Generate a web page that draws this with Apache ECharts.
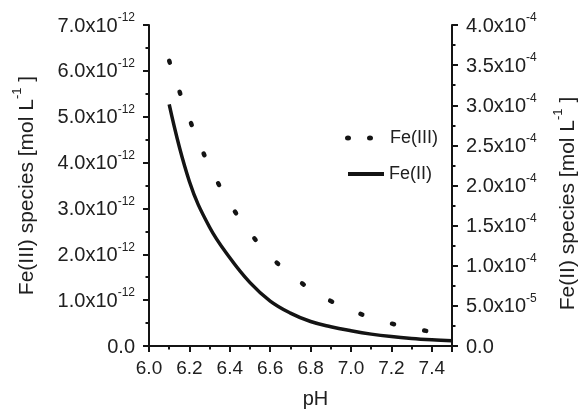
<!DOCTYPE html>
<html>
<head>
<meta charset="utf-8">
<script src="https://cdn.jsdelivr.net/npm/echarts@6/dist/echarts.min.js"></script>
<style>
  html, body { margin: 0; padding: 0; background: #fff; }
  #chart { width: 579px; height: 414px; }
</style>
</head>
<body>
<div id="chart"></div>
<script>
// pH sampling points
const pH = [6.1, 6.2, 6.3, 6.4, 6.5, 6.6, 6.7, 6.8, 6.9, 7.0, 7.1, 7.2, 7.3, 7.4, 7.5];
// Fe(III) species concentration, mol/L (left axis)
const fe3 = [6.22e-12, 4.95e-12, 3.92e-12, 3.11e-12, 2.47e-12, 1.96e-12, 1.56e-12, 1.24e-12,
             0.98e-12, 0.78e-12, 0.62e-12, 0.49e-12, 0.39e-12, 0.31e-12, 0.25e-12];
// Fe(II) species concentration, mol/L (right axis)
const fe2 = [3.01e-4, 2.05e-4, 1.48e-4, 1.10e-4, 0.79e-4, 0.56e-4, 0.41e-4, 0.305e-4,
             0.24e-4, 0.19e-4, 0.148e-4, 0.117e-4, 0.094e-4, 0.077e-4, 0.064e-4];

const INK = '#141414';
const TXT = '#202020';
const FONT = '"Liberation Sans", Arial, sans-serif';

// "m.m x10^e" tick labels with a raised exponent
function sciLabel(v) {
  if (Math.abs(v) < 1e-20) return '{b|0.0}';
  const e = Math.floor(Math.log10(v) + 1e-9);
  const m = v / Math.pow(10, e);
  return '{b|' + m.toFixed(1) + 'x10}{s|' + e + '}';
}
const richSci = {
  b: { fontSize: 20, lineHeight: 22, fontFamily: FONT, color: TXT, verticalAlign: 'bottom' },
  s: { fontSize: 12, lineHeight: 12, fontFamily: FONT, color: TXT, verticalAlign: 'bottom', padding: [14, 0, 12, 0] }
};
const richTitle = {
  b: { fontSize: 21, lineHeight: 24, fontFamily: FONT, color: TXT, verticalAlign: 'bottom' },
  s: { fontSize: 13, lineHeight: 13, fontFamily: FONT, color: TXT, verticalAlign: 'bottom', padding: [0, 0, 14, 0] }
};

const axisLine = { show: true, lineStyle: { color: INK, width: 2 } };
const tick = { show: true, inside: false, length: 6, lineStyle: { color: INK, width: 2 } };
const minor = { show: true, splitNumber: 2, length: 3.5, lineStyle: { color: INK, width: 2 } };

const chart = echarts.init(document.getElementById('chart'), null, { renderer: 'canvas' });
chart.setOption({
  animation: false,
  backgroundColor: '#fff',
  grid: { left: 149, right: 127, top: 25, bottom: 68, containLabel: false, outerBoundsMode: 'none' },
  legend: [
    {
      data: [{ name: 'Fe(III)', icon: 'path://M0,2.5a3,2.5 0 1,0 6,0a3,2.5 0 1,0 -6,0z M22,2.5a3,2.5 0 1,0 6,0a3,2.5 0 1,0 -6,0z' }],
      left: 340, top: 124, itemWidth: 28, itemHeight: 5, itemGap: 17,
      textStyle: { fontSize: 18, fontFamily: FONT, color: TXT, padding: [0, 0, 0, 12] },
      itemStyle: { color: INK, borderWidth: 0 }, lineStyle: { width: 0 }
    },
    {
      data: [{ name: 'Fe(II)', icon: 'path://M0,0h36v4h-36z' }],
      left: 343, top: 160, itemWidth: 36, itemHeight: 4.5, itemGap: 4,
      textStyle: { fontSize: 18, fontFamily: FONT, color: TXT },
      itemStyle: { color: INK, borderWidth: 0 }, lineStyle: { width: 0 }
    }
  ],
  xAxis: {
    type: 'value', min: 6.0, max: 7.5, interval: 0.2,
    axisLine: axisLine, axisTick: tick, minorTick: minor,
    splitLine: { show: false },
    axisLabel: {
      margin: 13, fontSize: 19, fontFamily: FONT, color: TXT,
      formatter: v => (v > 7.45 ? '' : v.toFixed(1))
    },
    name: 'pH', nameLocation: 'middle', nameGap: 43, nameMoveOverlap: false,
    nameTextStyle: { fontSize: 20, fontFamily: FONT, color: TXT, padding: [0, 0, 0, 30] }
  },
  yAxis: [
    {
      type: 'value', min: 0, max: 7e-12, interval: 1e-12, position: 'left',
      axisLine: axisLine, axisTick: tick, minorTick: minor,
      splitLine: { show: false },
      axisLabel: { margin: 14, formatter: sciLabel, rich: richSci },
      name: '{b|Fe(III) species [mol L}{s|-1}{b| ]}', nameLocation: 'middle', nameGap: 111,
      nameMoveOverlap: false,
      nameTextStyle: { rich: richTitle }
    },
    {
      type: 'value', min: 0, max: 4e-4, interval: 5e-5, position: 'right',
      axisLine: axisLine, axisTick: tick, minorTick: minor,
      splitLine: { show: false },
      axisLabel: { margin: 14, formatter: sciLabel, rich: richSci },
      name: '{b|Fe(II) species [mol L}{s|-1}{b| ]}', nameLocation: 'middle', nameGap: 103,
      nameMoveOverlap: false,
      nameTextStyle: { rich: richTitle, padding: [0, 36, 0, 0] }
    }
  ],
  series: [
    {
      name: 'Fe(III)', type: 'line', yAxisIndex: 0, smooth: 0.4,
      showSymbol: false, symbol: 'none',
      data: pH.map((x, i) => [x, fe3[i]]),
      lineStyle: { color: INK, width: 4.5, type: [2, 31], cap: 'round' },
      itemStyle: { color: INK }
    },
    {
      name: 'Fe(II)', type: 'line', yAxisIndex: 1, smooth: 0.4,
      showSymbol: false, symbol: 'none',
      data: pH.map((x, i) => [x, fe2[i]]),
      lineStyle: { color: INK, width: 3.5 },
      itemStyle: { color: INK }
    }
  ]
});
</script>
</body>
</html>
